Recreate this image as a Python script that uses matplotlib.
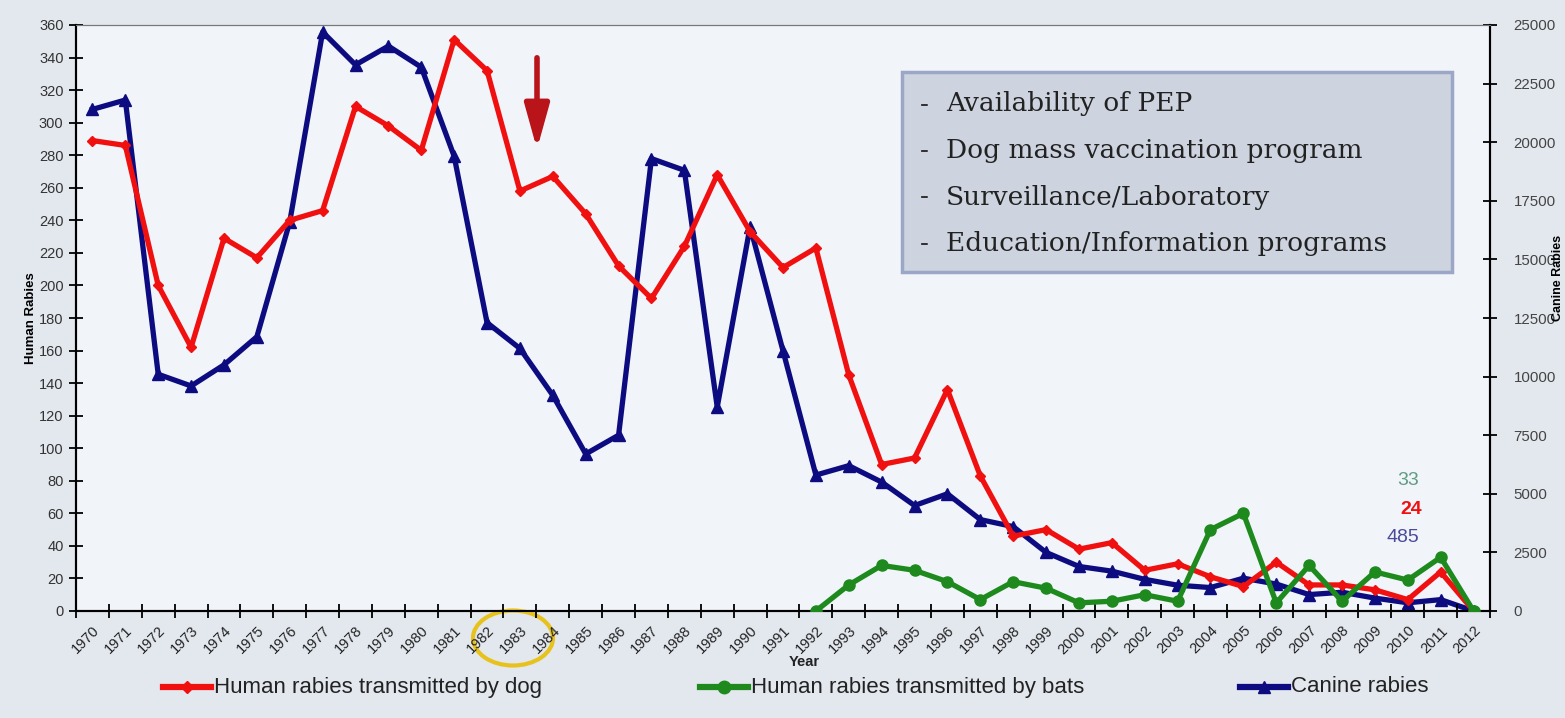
import matplotlib
matplotlib.use("Agg")
import matplotlib.pyplot as plt
from matplotlib.lines import Line2D
from matplotlib.patches import Ellipse, FancyArrowPatch, FancyBboxPatch

# data
years = list(range(1970, 2013))

human_dog = [289, 286, 200, 162, 229, 217, 240, 246, 310, 298,
             283, 351, 332, 258, 267, 244, 212, 192, 224, 268,
             233, 211, 223, 145, 90, 94, 136, 83, 46, 50,
             38, 42, 25, 29, 21, 15, 30, 16, 16, 13,
             7, 24, 0]

bat_years = list(range(1992, 2013))
human_bats = [0, 16, 28, 25, 18, 7, 18, 14, 5, 6,
              10, 6, 50, 60, 5, 28, 6, 24, 19, 33, 0]

canine = [21400, 21800, 10100, 9600, 10500, 11700, 16600, 24700, 23300, 24100,
          23200, 19400, 12300, 11200, 9200, 6700, 7500, 19300, 18800, 8700,
          16400, 11100, 5800, 6200, 5500, 4500, 5000, 3900, 3600, 2500,
          1900, 1700, 1350, 1100, 1000, 1400, 1150, 700, 800, 550,
          350, 485, 0]

actions = ["Availability of PEP", "Dog mass vaccination program",
           "Surveillance/Laboratory", "Education/Information programs"]

series_labels = ["Human rabies transmitted by dog", "Human rabies transmitted by bats",
                 "Canine rabies"]

RED = "#f01010"
GREEN = "#1e8a1e"
NAVY = "#0c0c80"
FIG_BG = "#e3e8ef"
AX_BG = "#f1f4f9"
SANS = "Liberation Sans"
W, H = 1565, 718


def fx(px):
    return px / W


def fy(py):
    return 1 - py / H


fig = plt.figure(figsize=(15.65, 7.18), dpi=100, facecolor=FIG_BG)
ax = fig.add_axes([fx(76), fy(611), (1490 - 76) / W, (611 - 25) / H])
ax2 = ax.twinx()

ax.plot(years, human_dog, color=RED, lw=3.8, marker="D", ms=5, zorder=3)
ax.plot(bat_years, human_bats, color=GREEN, lw=3.8, marker="o", ms=8, zorder=4)
ax2.plot(years, canine, color=NAVY, lw=3.8, marker="^", ms=8, zorder=3)

ax.set_zorder(ax2.get_zorder() + 1)
ax.patch.set_visible(False)
ax2.patch.set_visible(True)
ax2.set_facecolor(AX_BG)

ax.set_xlim(1969.5, 2012.5)
ax.set_ylim(0, 360)
ax2.set_ylim(0, 25000)

ax.set_yticks(range(0, 361, 20))
ax2.set_yticks(range(0, 25001, 2500))
ax.set_xticks(years)
ax.set_xticklabels([str(y) for y in years], rotation=45, ha="right",
                   rotation_mode="anchor", fontsize=10.5, family=SANS, color="#222222")
ax.set_xticks([y + 0.5 for y in range(1969, 2013)], minor=True)
ax.tick_params(axis="x", which="major", length=0, pad=9)
ax.tick_params(axis="x", which="minor", direction="inout", length=10, width=1.3)
ax.tick_params(axis="y", direction="inout", length=10, width=1.3, labelsize=10.5,
               labelcolor="#333333", pad=4)
ax2.tick_params(axis="y", direction="inout", length=10, width=1.3, labelsize=10.8,
                labelcolor="#444444", pad=12)
for t in ax.get_yticklabels() + ax2.get_yticklabels():
    t.set_family(SANS)

for a in (ax, ax2):
    a.spines["top"].set_color("#777777")
    a.spines["top"].set_linewidth(0.8)
    for s in ("left", "bottom", "right"):
        a.spines[s].set_linewidth(1.5)

ax.set_ylabel("Human Rabies", fontsize=9.5, fontweight="bold", family=SANS, labelpad=1)
fig.text(fx(1558), fy(278), "Canine Rabies", rotation=90, ha="center", va="center",
         fontsize=9, fontweight="bold", family=SANS)
fig.text(fx(804), fy(662), "Year", ha="center", va="center", fontsize=10.5,
         fontweight="bold", family=SANS, color="#222222")

# last-year values
ax.text(2010, 80, "33", ha="center", va="center", fontsize=14, color="#5f9c80", family=SANS)
ax.text(2010.1, 62.5, "24", ha="center", va="center", fontsize=14, color=RED,
        fontweight="bold", family=SANS)
ax.text(2009.85, 45, "485", ha="center", va="center", fontsize=14, color="#4a4a9a",
        family=SANS)

# arrow above 1983
fig.add_artist(FancyArrowPatch((fx(537), fy(55)), (fx(537), fy(152)),
                               transform=fig.transFigure,
                               arrowstyle="-|>,head_width=0.25,head_length=0.9",
                               mutation_scale=30, lw=4, color="#b8141a"))

# highlight around 1983 label
fig.add_artist(Ellipse((fx(513), fy(638)), 80 / W, 55 / H,
                       transform=fig.transFigure, fill=False,
                       edgecolor="#e8c21c", lw=3))

# box with control actions
fig.add_artist(FancyBboxPatch((fx(902), fy(272)), 550 / W, 200 / H,
                              boxstyle="square,pad=0", transform=fig.transFigure,
                              facecolor="#cdd4df", edgecolor="#9aa7c6", lw=2.5))
for i, line in enumerate(actions):
    yy = fy(104 + i * 46.5)
    fig.text(fx(920), yy, "-", fontsize=19, family="DejaVu Serif",
             va="center", color="#333333")
    fig.text(fx(946), yy, line, fontsize=19, family="DejaVu Serif",
             va="center", color="#222222")

# legend below the axis, entries placed like the original
legend_items = [(RED, "D", 5, 163), (GREEN, "o", 8, 700), (NAVY, "^", 8, 1240)]
for (col, mk, ms, x0), lab in zip(legend_items, series_labels):
    fig.add_artist(Line2D([fx(x0), fx(x0 + 48)], [fy(687), fy(687)],
                          transform=fig.transFigure, color=col, lw=4.5))
    fig.add_artist(Line2D([fx(x0 + 24)], [fy(687)], transform=fig.transFigure,
                          color=col, marker=mk, ms=ms + 1, lw=0))
    fig.text(fx(x0 + 51), fy(687), lab, fontsize=16, family=SANS, va="center",
             color="#222222")

fig.savefig("out.png", dpi=100, facecolor=FIG_BG)
